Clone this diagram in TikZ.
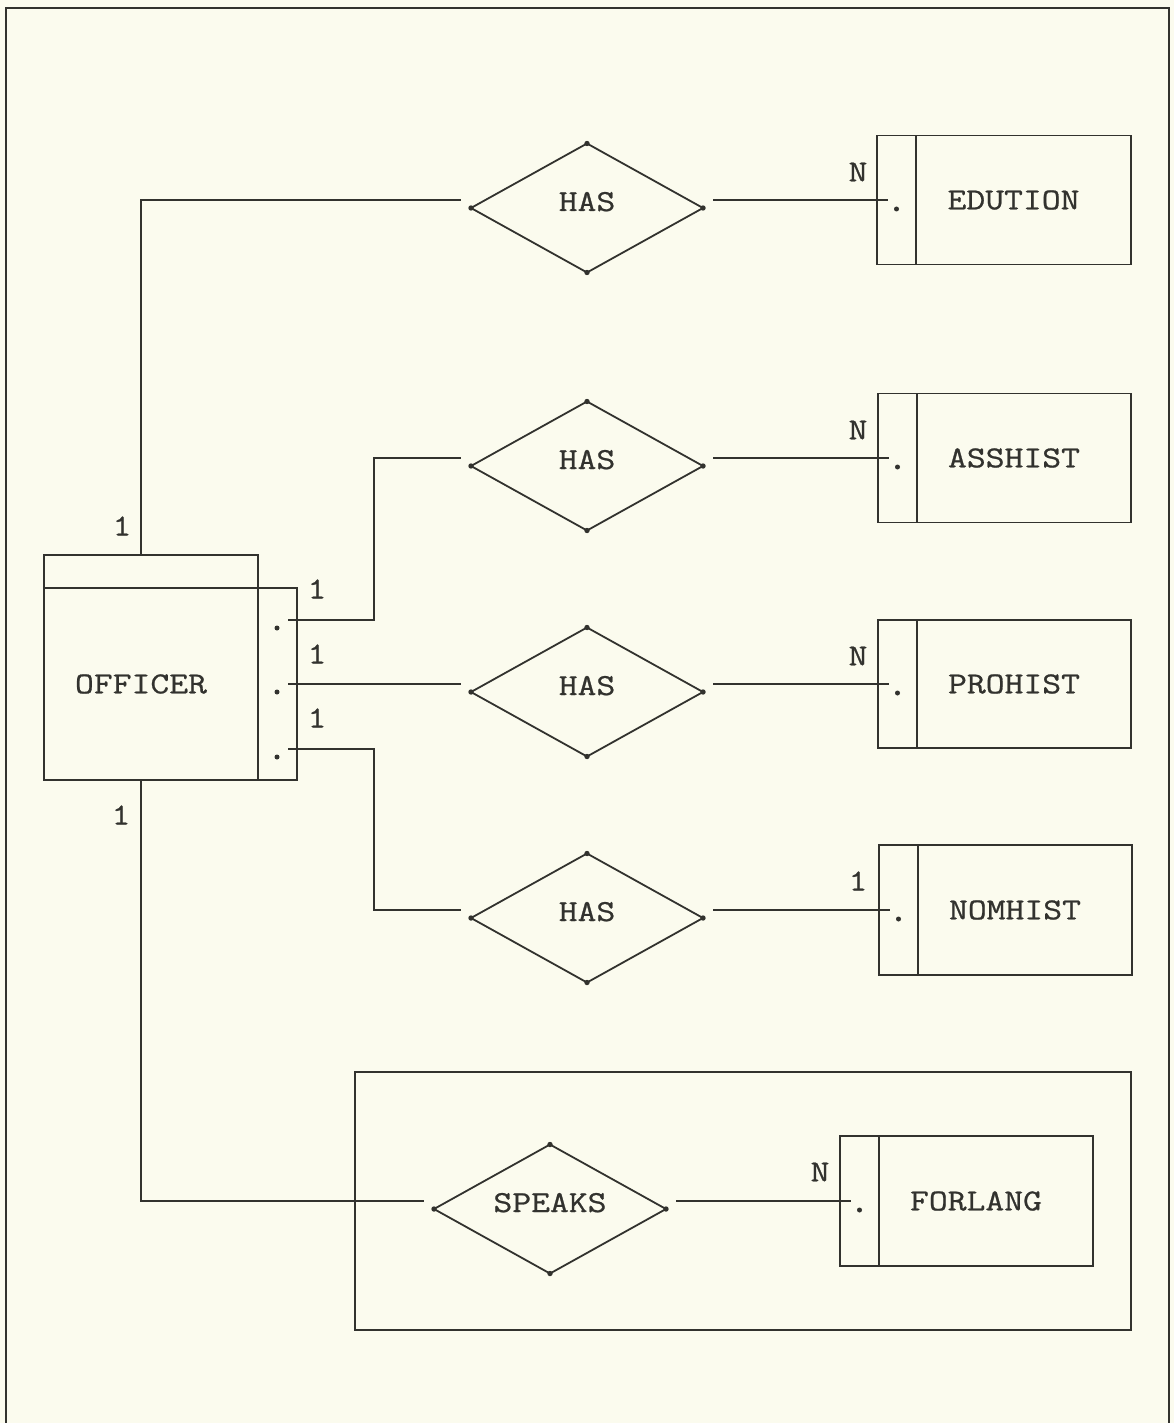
\documentclass[tikz,border=0pt]{standalone}
\usepackage{fontspec}
\setmonofont{Latin Modern Mono}[FakeStretch=1.2,FakeBold=0.8]
\usetikzlibrary{shapes.geometric,calc}
\definecolor{paper}{RGB}{251,251,238}
\definecolor{ink}{RGB}{50,50,46}
% diamond caption sits a little above the diamond's middle
\newcommand{\relname}[1]{\raisebox{-3pt}[0pt][0pt]{#1}}
% entity caption sits a little left of the box middle
\newcommand{\entname}[1]{#1\hspace*{20pt}}

\begin{document}
\begin{tikzpicture}[x=1pt,y=-1pt,
  every node/.style={font=\ttfamily\fontsize{30.5}{30.5}\selectfont, text=ink},
  line/.style={draw=ink, line width=1.8pt},
  box/.style={line, rectangle, inner sep=0pt, outer sep=0pt},
  rel/.style={line, diamond, minimum width=232pt, minimum height=129pt,
              inner sep=0pt, outer sep=0pt, aspect=1.8},
  card/.style={inner sep=0pt},
  vdot/.style={fill=ink}]

% page
\fill[paper] (0,0) rectangle (1174,1423);
\useasboundingbox (0,0) rectangle (1174,1423);
\draw[line] (6,1423) -- (6,8) -- (1169,8) -- (1169,1423);

% OFFICER entity: header, body and port strip
\node[box, minimum width=214pt, minimum height=192pt] (offm) at (151,684) {\entname{OFFICER}};
\node[box, minimum width=214pt, minimum height=33pt, anchor=south] (offh) at (offm.north) {};
\node[box, minimum width=39pt, minimum height=192pt, anchor=west] (offs) at (offm.east) {};

% group frame around the SPEAKS relationship
\node[box, minimum width=776pt, minimum height=258pt] (grp) at (743,1201) {};

% relationships
\node[rel] (d1) at (587,208)  {\relname{HAS}};
\node[rel] (d2) at (587,466)  {\relname{HAS}};
\node[rel] (d3) at (587,692)  {\relname{HAS}};
\node[rel] (d4) at (587,918)  {\relname{HAS}};
\node[rel] (d5) at (550,1209) {\relname{SPEAKS}};
\foreach \d in {d1,d2,d3,d4,d5}
  \foreach \a in {north,south,east,west}
    \fill[vdot] (\d.\a) circle (2.7pt);

% dependent entities
\node[box, minimum width=215pt, minimum height=129pt] (edu) at (1023.5,200) {\entname{EDUTION}};
\node[box, minimum width=39pt, minimum height=129pt, anchor=east] (edus) at (edu.west) {};
\node[box, minimum width=214pt, minimum height=129pt] (ass) at (1024,458) {\entname{ASSHIST}};
\node[box, minimum width=39pt, minimum height=129pt, anchor=east] (asss) at (ass.west) {};
\node[box, minimum width=214pt, minimum height=128pt] (pro) at (1024,684) {\entname{PROHIST}};
\node[box, minimum width=39pt, minimum height=128pt, anchor=east] (pros) at (pro.west) {};
\node[box, minimum width=214pt, minimum height=130pt] (nom) at (1025,910) {\entname{NOMHIST}};
\node[box, minimum width=39pt, minimum height=130pt, anchor=east] (noms) at (nom.west) {};
\node[box, minimum width=214pt, minimum height=130pt] (for) at (986,1201) {\entname{FORLANG}};
\node[box, minimum width=39pt, minimum height=130pt, anchor=east] (fors) at (for.west) {};

% connector ends next to the diamonds
\foreach \d in {d1,d2,d3,d4,d5} {
  \path (\d.west) ++(-10,-8) coordinate (\d w);
  \path (\d.east) ++(10,-8) coordinate (\d e);
}
% ports on the officer strip
\coordinate (o2) at ($(offs.north east)+(-9,32)$);
\coordinate (o3) at ($(offs.north east)+(-9,96)$);
\coordinate (o4) at ($(offs.north east)+(-9,161)$);
\foreach \p in {o2,o3,o4}
  \fill[vdot] ($(\p)+(-11,8)$) circle (2.5pt);

% officer to relationships
\draw[line] ($(offh.north)+(-10,0)$) |- (d1w);
\draw[line] (o2) -- ++(86,0) |- (d2w);
\draw[line] (o3) -- (d3w);
\draw[line] (o4) -- ++(86,0) |- (d4w);
\draw[line] ($(offm.south)+(-10,0)$) |- (d5w);

% relationships to entities
\draw[line] (d1e) -- ($(edus.west)+(11,0)$);
\draw[line] (d2e) -- ($(asss.west)+(11,0)$);
\draw[line] (d3e) -- ($(pros.west)+(11,0)$);
\draw[line] (d4e) -- ($(noms.west)+(11,0)$);
\draw[line] (d5e) -- ($(fors.west)+(11,0)$);
\foreach \s in {edus,asss,pros,noms,fors}
  \fill[vdot] ($(\s.center)+(0,9)$) circle (2.5pt);

% cardinalities
\node[card] (c1) at (122,526) {1};
\node[card] (c2) at (121,815) {1};
\node[card] (c3) at (317,589) {1};
\node[card] (c4) at (317,654) {1};
\node[card] (c5) at (317,718) {1};
\node[card] (c6) at (858,172) {N};
\node[card] (c7) at (858,430) {N};
\node[card] (c8) at (858,656) {N};
\node[card] (c9) at (858,881) {1};
\node[card] (c10) at (820,1172) {N};
\end{tikzpicture}
\end{document}
